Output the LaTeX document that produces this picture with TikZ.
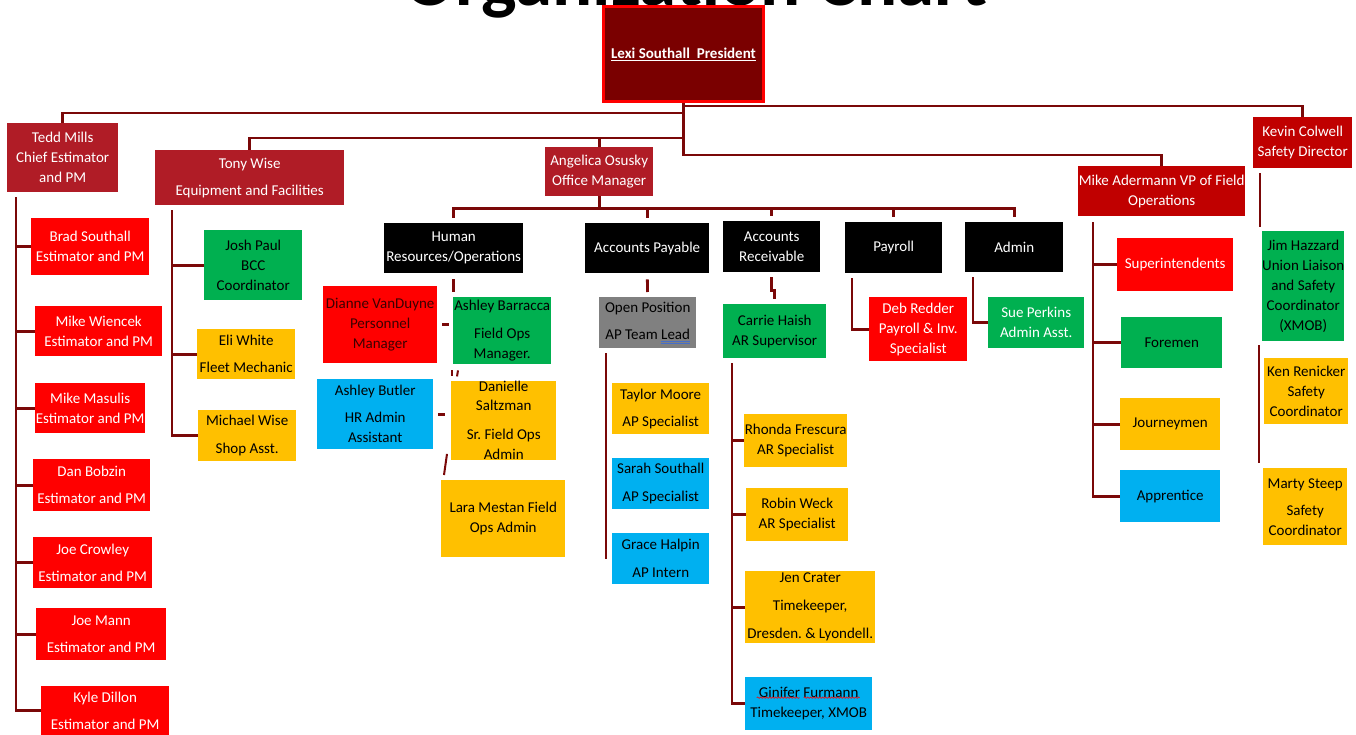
\documentclass[tikz,border=0pt]{standalone}
\usepackage{fontspec}
\setmainfont{Carlito}
\frenchspacing
\usetikzlibrary{calc}
\usetikzlibrary{positioning}
\usetikzlibrary{decorations.pathmorphing}

\definecolor{praesrot}{RGB}{122,0,0}
\definecolor{chefrot}{RGB}{176,28,38}
\definecolor{vprot}{RGB}{192,0,0}
\definecolor{hellrot}{RGB}{255,0,0}
\definecolor{gruen}{RGB}{0,176,80}
\definecolor{gelb}{RGB}{255,192,0}
\definecolor{blau}{RGB}{0,176,240}
\definecolor{grau}{RGB}{128,128,128}
\definecolor{linienrot}{RGB}{122,8,8}
\definecolor{dunkelrot}{RGB}{60,0,0}
\definecolor{strichblau}{RGB}{70,110,200}

\newcommand{\unterstrich}[1]{\setbox0\hbox{#1}\rlap{\rule[-2.5pt]{\wd0}{1pt}}\box0}
\newcommand{\doppelstrich}[1]{\setbox0\hbox{#1}\rlap{\color{strichblau}\rule[-2.5pt]{\wd0}{0.7pt}}\rlap{\color{strichblau}\rule[-4.5pt]{\wd0}{0.7pt}}\box0}

\begin{document}
\begin{tikzpicture}[x=1pt, y=-1pt,
linie/.style={
  line width=2.8pt,
  draw=linienrot
},
kasten/.style={
  anchor=north west,
  inner sep=0pt,
  align=center,
  font=\fontsize{15}{20}\selectfont
},
mass/.style 2 args={minimum width=#1, minimum height=#2},
chefkasten/.style={kasten, fill=chefrot, text=white},
vpkasten/.style={kasten, fill=vprot, text=white},
schwarzkasten/.style={kasten, fill=black, text=white},
rotkasten/.style={kasten, fill=hellrot, text=white},
gruenkasten/.style={kasten, fill=gruen, text=black},
gelbkasten/.style={kasten, fill=gelb, text=black},
blaukasten/.style={kasten, fill=blau, text=black},
graukasten/.style={kasten, fill=grau, text=black},
welle/.style={
  draw=red,
  line width=0.6pt,
  decorate,
  decoration={snake, amplitude=0.7pt, segment length=3pt}
}]
\useasboundingbox (0,0) rectangle (1356,735);
\clip (0,0) rectangle (1356,735);

\node (titel) at (696,6) [anchor=base, font=\fontsize{75}{80}\selectfont\bfseries] {Organization Chart};

\node[kasten, mass={160}{95}, fill=praesrot, draw=hellrot, line width=3pt, text=white, font=\fontsize{15}{20}\selectfont\bfseries] (praes) at (602,5) {\unterstrich{Lexi Southall\ \ President}};

% Leitung
\node[chefkasten, mass={111}{69}] (tedd) at (7,123) {Tedd Mills\\Chief Estimator\\and PM};
\node[chefkasten, mass={189}{55}] (tony) at (155,150) {Tony Wise\\[7pt]Equipment and Facilities};
\node[chefkasten, mass={108}{49}] (angelica) at (545,147) {Angelica Osusky\\Office Manager};
\node[vpkasten, mass={167}{50}] (mike) at (1078,166) {Mike Adermann VP of Field\\Operations};
\node[vpkasten, mass={99}{51}] (kevin) at (1253,117) {Kevin Colwell\\Safety Director};

% Abteilungen
\node[schwarzkasten, mass={139}{50}] (hr) at (384,223) {Human\\Resources/Operations};
\node[schwarzkasten, mass={124}{50}] (ap) at (585,223) {Accounts Payable};
\node[schwarzkasten, mass={97}{51}] (ar) at (723,221) {Accounts\\Receivable};
\node[schwarzkasten, mass={97}{51}] (payroll) at (845,222) {Payroll};
\node[schwarzkasten, mass={98}{50}] (admin) at (965,222) {Admin};

% Estimators
\node[rotkasten, mass={118}{57}] (brad) at (31,218) {Brad Southall\\Estimator and PM};
\node[rotkasten, mass={127}{50}] (wiencek) at (35,306) {Mike Wiencek\\Estimator and PM};
\node[rotkasten, mass={110}{50}] (masulis) at (35,383) {Mike Masulis\\Estimator and PM};
\node[rotkasten, mass={117}{52}] (bobzin) at (33,459) {Dan Bobzin\\[7pt]Estimator and PM};
\node[rotkasten, mass={119}{51}] (crowley) at (33,537) {Joe Crowley\\[7pt]Estimator and PM};
\node[rotkasten, mass={130}{52}] (mann) at (36,608) {Joe Mann\\[7pt]Estimator and PM};
\node[rotkasten, mass={128}{49}] (dillon) at (41,686) {Kyle Dillon\\[7pt]Estimator and PM};

% Equipment
\node[gruenkasten, mass={98}{70}] (josh) at (204,230) {Josh Paul\\BCC\\Coordinator};
\node[gelbkasten, mass={98}{50}] (eli) at (197,329) {Eli White\\[7pt]Fleet Mechanic};
\node[gelbkasten, mass={98}{51}] (michael) at (198,410) {Michael Wise\\[8pt]Shop Asst.};

% HR
\node[rotkasten, mass={114}{77}, text=dunkelrot] (dianne) at (323,286) {Dianne VanDuyne\\Personnel\\Manager};
\node[gruenkasten, mass={98}{67}] (barracca) at (453,297) {Ashley Barracca\\[8pt]Field Ops\\Manager.};
\node[blaukasten, mass={116}{70}] (butler) at (317,379) {Ashley Butler\\[7pt]HR Admin\\Assistant};
\node[gelbkasten, mass={105}{78}] (danielle) at (451,381) {Danielle\\[-1pt]Saltzman\\[9pt]Sr. Field Ops\\Admin};
\node[gelbkasten, mass={124}{77}] (lara) at (441,480) {Lara Mestan Field\\Ops Admin};

% Accounts Payable
\node[graukasten, mass={97}{51}] (open) at (599,297) {Open Position\\[7pt]AP Team \doppelstrich{Lead}};
\node[gelbkasten, mass={97}{51}] (taylor) at (612,383) {Taylor Moore\\[7pt]AP Specialist};
\node[blaukasten, mass={97}{51}] (sarah) at (612,458) {Sarah Southall\\[8pt]AP Specialist};
\node[blaukasten, mass={97}{51}] (grace) at (612,533) {Grace Halpin\\[8pt]AP Intern};

% Accounts Receivable
\node[gruenkasten, mass={103}{54}] (carrie) at (723,304) {Carrie Haish\\AR Supervisor};
\node[gelbkasten, mass={103}{53}] (rhonda) at (744,414) {Rhonda Frescura\\AR Specialist};
\node[gelbkasten, mass={102}{53}] (robin) at (746,488) {Robin Weck\\AR Specialist};
\node[gelbkasten, mass={130}{72}] (jen) at (745,571) {Jen Crater\\[8pt]Timekeeper,\\[8pt]Dresden. \& Lyondell.};
\node[blaukasten, mass={127}{53}] (ginifer) at (745,677) {Ginifer Furmann\\Timekeeper, XMOB};

% Payroll und Admin
\node[rotkasten, mass={98}{64}] (deb) at (869,297) {Deb Redder\\Payroll \& Inv.\\Specialist};
\node[gruenkasten, mass={96}{51}, text=white] (sue) at (988,297) {Sue Perkins\\Admin Asst.};

% Field Operations
\node[rotkasten, mass={116}{53}] (superint) at (1117,238) {Superintendents};
\node[gruenkasten, mass={101}{51}] (foremen) at (1121,317) {Foremen};
\node[gelbkasten, mass={100}{52}] (journey) at (1120,398) {Journeymen};
\node[blaukasten, mass={100}{52}] (apprentice) at (1120,470) {Apprentice};

% Safety
\node[gruenkasten, mass={81}{110}] (jim) at (1262,231) {Jim Hazzard\\Union Liaison\\and Safety\\Coordinator\\(XMOB)};
\node[gelbkasten, mass={84}{66}] (ken) at (1264,358) {Ken Renicker\\Safety\\Coordinator};
\node[gelbkasten, mass={84}{77}] (marty) at (1263,468) {Marty Steep\\[7pt]Safety\\Coordinator};

% Verbindungen oben
\draw[linie] (praes.south) -- ++(0,52) -| (mike.north);
\draw[linie] ($(praes.south)+(0,3)$) -| (kevin.north);
\draw[linie] ($(praes.south)+(0,10)$) -| (tedd.north);
\draw[linie] ($(praes.south)+(0,35)$) -| (tony.north);
\draw[linie] ($(praes.south)+(0,35)$) -| (angelica.north);

\draw[linie, shorten >=5pt] (angelica.south) -- ++(0,12) -| (hr.north);
\draw[linie, shorten >=5pt] (angelica.south) -- ++(0,12) -| (ap.north);
\draw[linie, shorten >=5pt] (angelica.south) -- ++(0,12) -| (ar.north);
\draw[linie, shorten >=5pt] (angelica.south) -- ++(0,12) -| (payroll.north);
\draw[linie, shorten >=5pt] (angelica.south) -- ++(0,12) -| (admin.north);

% Estimators
\coordinate (tstamm) at ($(tedd.south west)+(9,5)$);
\draw[linie] (tstamm) |- (dillon.west);
\draw[linie] (brad.west) -- (brad.west -| tstamm);
\draw[linie] (wiencek.west) -- (wiencek.west -| tstamm);
\draw[linie] (masulis.west) -- (masulis.west -| tstamm);
\draw[linie] (bobzin.west) -- (bobzin.west -| tstamm);
\draw[linie] (crowley.west) -- (crowley.west -| tstamm);
\draw[linie] (mann.west) -- (mann.west -| tstamm);

% Equipment
\coordinate (wstamm) at ($(tony.south west)+(17,5)$);
\draw[linie] (wstamm) |- (michael.west);
\draw[linie] (josh.west) -- (josh.west -| wstamm);
\draw[linie] (eli.west) -- (eli.west -| wstamm);

% HR (nur Bruchstuecke)
\draw[linie, shorten <=6pt, shorten >=5pt] (hr.south) -- (hr.south |- barracca.north);
\draw[linie, shorten <=5pt, shorten >=4pt] (dianne.east) -- (dianne.east -| barracca.west);
\draw[linie, shorten <=5pt, shorten >=6pt] (butler.east) -- (butler.east -| danielle.west);
\draw[linie, line width=2pt] ($(barracca.south west)+(-1,6)$) -- ++(0,6);
\draw[linie, line width=2pt] ($(barracca.south west)+(5,6)$) -- ++(-1,6);
\draw[linie, line width=2pt] ($(danielle.south west)+(-4,-6)$) -- ($(lara.north west)+(3,-5)$);

% Accounts Payable
\draw[linie, shorten <=6pt, shorten >=5pt] (ap.south) -- (open.north);
\coordinate (apstamm) at ($(open.south west)+(7,5)$);
\draw[linie] (apstamm) -- (apstamm |- grace.west);

% Accounts Receivable
\draw[linie] ($(ar.south)+(0,5)$) -- ++(0,13) -| ($(carrie.north)+(0,-5)$);
\coordinate (arstamm) at ($(carrie.south west)+(9,5)$);
\draw[linie] (arstamm) |- (ginifer.west);
\draw[linie] (rhonda.west) -- (rhonda.west -| arstamm);
\draw[linie] (robin.west) -- (robin.west -| arstamm);
\draw[linie] (jen.west) -- (jen.west -| arstamm);
\draw[welle] ($(ginifer.center)+(-52,-6)$) -- ++(43,0);
\draw[welle] ($(ginifer.center)+(-5,-6)$) -- ++(56,0);

% Payroll und Admin
\coordinate (pstamm) at ($(payroll.south west)+(7,5)$);
\draw[linie] (pstamm) |- (deb.west);
\coordinate (astamm) at ($(admin.south west)+(8,5)$);
\draw[linie] (astamm) |- (sue.west);

% Field Operations
\coordinate (mstamm) at ($(mike.south west)+(15,6)$);
\draw[linie] (mstamm) |- (apprentice.west);
\draw[linie] (superint.west) -- (superint.west -| mstamm);
\draw[linie] (foremen.west) -- (foremen.west -| mstamm);
\draw[linie] (journey.west) -- (journey.west -| mstamm);

% Safety
\coordinate (kstamm) at ($(kevin.south west)+(7,5)$);
\draw[linie, shorten >=4pt] (kstamm) -- (kstamm |- jim.north);
\coordinate (kstamm2) at ($(jim.south west)+(-3,4)$);
\draw[linie, shorten >=5pt] (kstamm2) -- (kstamm2 |- marty.north);

\end{tikzpicture}
\end{document}
